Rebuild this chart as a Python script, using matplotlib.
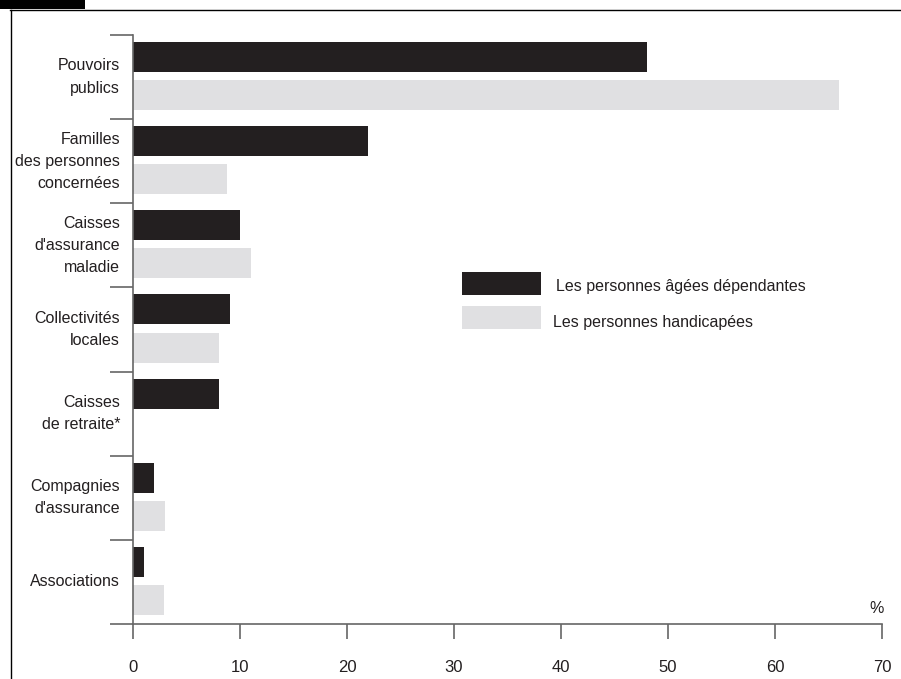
import matplotlib
matplotlib.use("Agg")
import matplotlib.pyplot as plt
from matplotlib.patches import Rectangle
from matplotlib.lines import Line2D

categories = ["Pouvoirs\npublics", "Familles\ndes personnes\nconcernées",
              "Caisses\nd'assurance\nmaladie", "Collectivités\nlocales",
              "Caisses\nde retraite*", "Compagnies\nd'assurance", "Associations"]
agees = [48, 22, 10, 9.1, 8, 2, 1]
handicapees = [66, 8.8, 11, 8, 0, 3, 2.9]
series_names = ["Les personnes âgées dépendantes", "Les personnes handicapées"]
xticks = [0, 10, 20, 30, 40, 50, 60, 70]

plt.rcParams['font.family'] = ['Liberation Sans', 'DejaVu Sans']
TXT = '#231f20'
DARK = '#231f20'
LIGHT = '#e0e0e2'
SPINE = '#666666'
FS = 11.5

W, H = 901, 679
fig = plt.figure(figsize=(W/100, H/100), dpi=100)
ax = fig.add_axes([133/W, 1-624/H, (882-133)/W, (624-35)/H])

bh = 30/84
for i in range(len(categories)):
    if agees[i] > 0:
        ax.barh(i + 22/84, agees[i], height=bh, color=DARK, linewidth=0)
    if handicapees[i] > 0:
        ax.barh(i + 60/84, handicapees[i], height=bh, color=LIGHT, linewidth=0)

ax.set_xlim(0, 70)
ax.set_ylim(len(categories), 0)
ax.set_xticks(xticks)
ax.set_xticklabels([str(t) for t in xticks], fontsize=12, color=TXT)
ax.set_yticks(range(len(categories)+1))
ax.set_yticklabels([])
for i, c in enumerate(categories):
    ax.text(-13/10.7, i + 0.5, c, ha='right', va='center', fontsize=FS,
            color=TXT, linespacing=1.6)

for s in ['top', 'right']:
    ax.spines[s].set_visible(False)
for s in ['left', 'bottom']:
    ax.spines[s].set_color(SPINE)
    ax.spines[s].set_linewidth(1.2)
ax.tick_params(axis='y', direction='out', length=16.5, width=1.2, color=SPINE)
ax.tick_params(axis='x', direction='out', length=11, width=1.2, color=SPINE, pad=15)

ax.text(70.2, 6.82, "%", ha='right', va='center', fontsize=FS, color=TXT)

# legend
def fx(px): return px / W
def fy(py): return 1 - py / H
fig.patches.append(Rectangle((fx(462), fy(295)), (541-462)/W, 23/H,
                             transform=fig.transFigure, color=DARK, lw=0))
fig.patches.append(Rectangle((fx(462), fy(329)), (541-462)/W, 23/H,
                             transform=fig.transFigure, color=LIGHT, lw=0))
fig.text(fx(556), fy(286), series_names[0], ha='left', va='center', fontsize=FS, color=TXT)
fig.text(fx(553), fy(323), series_names[1], ha='left', va='center', fontsize=FS, color=TXT)

# frame
fig.patches.append(Rectangle((0, fy(9)), 85/W, 9/H, transform=fig.transFigure,
                             color='black', lw=0))
fig.lines.append(Line2D([fx(10), 1], [fy(9.5), fy(9.5)], transform=fig.transFigure,
                        color='black', lw=1))
fig.lines.append(Line2D([fx(10.5), fx(10.5)], [fy(9.5), 0], transform=fig.transFigure,
                        color='black', lw=1))

fig.savefig("out.png", dpi=100)
